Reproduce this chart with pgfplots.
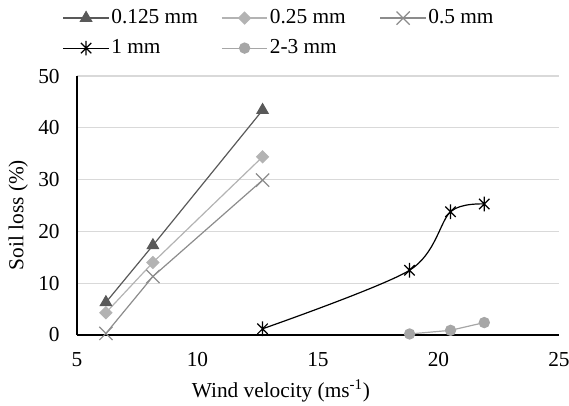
\documentclass[border=0pt]{standalone}
\usepackage{fontspec}
\setmainfont{Liberation Serif}
\usepackage{pgfplots}
\pgfplotsset{compat=1.18}
\definecolor{cA}{HTML}{595959}
\definecolor{cB}{HTML}{B3B3B3}
\definecolor{cC}{HTML}{8C8C8C}
\definecolor{cE}{HTML}{A6A6A6}
\definecolor{gridc}{HTML}{D9D9D9}
\pgfdeclareplotmark{xstar}{%
  \pgfpathmoveto{\pgfqpoint{-.7071\pgfplotmarksize}{-.7071\pgfplotmarksize}}%
  \pgfpathlineto{\pgfqpoint{.7071\pgfplotmarksize}{.7071\pgfplotmarksize}}%
  \pgfpathmoveto{\pgfqpoint{-.7071\pgfplotmarksize}{.7071\pgfplotmarksize}}%
  \pgfpathlineto{\pgfqpoint{.7071\pgfplotmarksize}{-.7071\pgfplotmarksize}}%
  \pgfpathmoveto{\pgfqpoint{0pt}{-\pgfplotmarksize}}%
  \pgfpathlineto{\pgfqpoint{0pt}{\pgfplotmarksize}}%
  \pgfusepathqstroke}
\newcommand\fs{\fontsize{16}{19}\selectfont}
\begin{document}
\fs
\begin{tikzpicture}
\begin{axis}[name=ax, scale only axis, width=361.5pt, height=194.25pt,
  xmin=5, xmax=25, ymin=0, ymax=50,
  xtick={5,10,...,25}, ytick={0,10,...,50},
  axis x line*=bottom, axis y line*=left,
  axis line style={line width=0.9pt, black},
  ymajorgrids, grid style={draw=gridc, line width=0.9pt},
  major tick length=0pt,
  /pgf/number format/assume math mode=true,
  tick label style={font=\fs},
  label style={font=\fs},
  xticklabel shift=7.5pt, yticklabel shift=7.5pt,
  xlabel={Wind velocity (ms\textsuperscript{-1})},
  ylabel={Soil loss (\%)},
  xlabel style={at={(axis description cs:0.423,-0.243)}, anchor=base},
  ylabel style={at={(axis description cs:-0.122,0.463)}, anchor=center},
  legend columns=3,
  legend style={at={(axis description cs:-0.03,1.266)}, anchor=north west, draw=none,
    inner sep=0pt, row sep=6.5pt, font=\fs, nodes={inner sep=1.5pt, font=\fs}},
  legend cell align=left,
  legend image code/.code={\draw[mark repeat=2,mark phase=2,#1] plot coordinates {(0pt,0pt)(17pt,0pt)(34pt,0pt)};},
]
\addplot[cA, line width=0.9pt, mark=triangle*, mark size=4.8pt, mark options={solid, fill=cA}]
  coordinates {(6.2,6.3) (8.15,17.3) (12.7,43.4)};
\addlegendentry{\makebox[81pt][l]{0.125 mm}}
\addplot[cB, line width=0.9pt, mark=square*, mark size=3.1pt, mark options={solid, fill=cB, rotate=45}]
  coordinates {(6.2,4.3) (8.15,14.0) (12.7,34.4)};
\addlegendentry{\makebox[81pt][l]{0.25 mm}}
\addplot[cC, line width=0.9pt, mark=x, mark size=7pt, mark options={solid}]
  coordinates {(6.2,0.3) (8.15,11.3) (12.7,29.9)};
\addlegendentry{0.5 mm}
\addplot[black, line width=0.9pt, smooth, mark=xstar, mark size=5.5pt, mark options={solid}]
  coordinates {(12.7,1.2) (18.8,12.5) (20.5,23.8) (21.9,25.3)};
\addlegendentry{\makebox[81pt][l]{1 mm}}
\addplot[cE, line width=0.9pt, mark=*, mark size=3.8pt, mark options={solid, fill=cE}]
  coordinates {(18.8,0.2) (20.5,0.9) (21.9,2.4)};
\addlegendentry{\makebox[81pt][l]{2-3 mm}}
\end{axis}
\pgfresetboundingbox
\path ([shift={(-57.75pt,-52.5pt)}]ax.south west) rectangle ([shift={(369pt,251.25pt)}]ax.south west);
\end{tikzpicture}
\end{document}
